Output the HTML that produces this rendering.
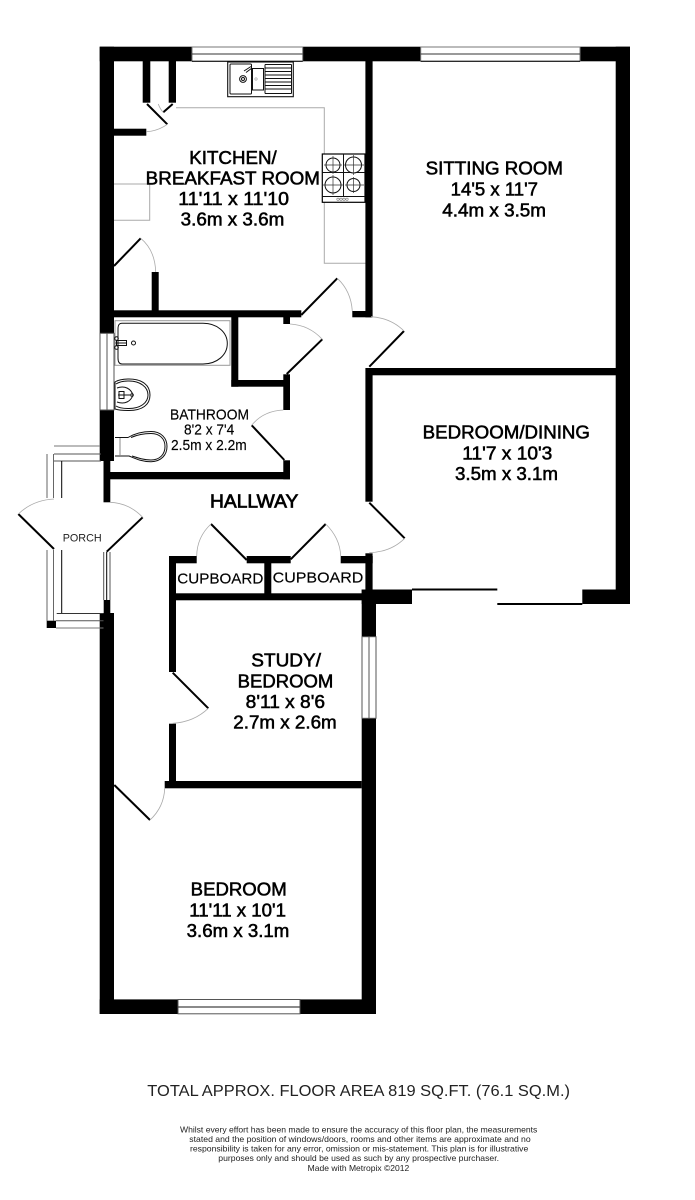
<!DOCTYPE html>
<html><head><meta charset="utf-8"><title>Floor plan</title>
<style>
html,body{margin:0;padding:0;background:#fff}
svg{display:block}
text{font-family:"Liberation Sans",Arial,sans-serif;fill:#000;text-anchor:start}
.r{font-size:18px;stroke:#000;stroke-width:.55}
.b{font-size:14.5px;stroke:#000;stroke-width:.15}
.d{font-size:8.3px;fill:#222}
.w{fill:#000}
.arc{fill:none;stroke:#aaa;stroke-width:.8}
.door{fill:none;stroke:#000;stroke-width:2}
.g{fill:none;stroke:#aaa;stroke-width:1}
.f{fill:none;stroke:#111;stroke-width:1}
.fw{fill:#fff;stroke:#222;stroke-width:.9}
</style></head><body>
<svg width="695" height="1200" viewBox="0 0 695 1200" xmlns="http://www.w3.org/2000/svg">
<rect width="695" height="1200" fill="#fff"/>

<!-- counters / table -->
<path class="g" d="M176 107.7H324.3V154M324.3 202V263.3H365.5M114 184H149.7V220.3H114"/>

<!-- walls -->
<g class="w">
<rect x="99.7" y="46.7" width="92.3" height="14.6"/>
<rect x="302.7" y="46.7" width="118" height="14.6"/>
<rect x="580" y="46.7" width="50" height="14.6"/>
<rect x="615.7" y="46.7" width="14.3" height="557.3"/>
<rect x="99.7" y="46.7" width="14.3" height="286.6"/>
<rect x="99.7" y="410" width="14.3" height="51"/>
<rect x="103.5" y="461" width="6.8" height="41.3"/>
<rect x="103.7" y="600" width="6.6" height="14"/>
<rect x="99.7" y="613" width="14.3" height="401"/>
<rect x="99.7" y="999.4" width="78.3" height="14.6"/>
<rect x="300" y="999.4" width="76" height="14.6"/>
<rect x="361.7" y="589.5" width="14.3" height="47.2"/>
<rect x="361.7" y="718.3" width="14.3" height="295.7"/>
<rect x="365.4" y="61" width="7.2" height="256.3"/>
<!-- kitchen cupboard -->
<rect x="142.7" y="61" width="7.6" height="41.7"/>
<rect x="168.7" y="61" width="7.3" height="41.7"/>
<rect x="114" y="128.7" width="32.3" height="7"/>
<rect x="151.7" y="272" width="7" height="40"/>
<rect x="114" y="310.3" width="187.3" height="7"/>
<rect x="352.3" y="311" width="20" height="6.3"/>
<!-- bathroom -->
<rect x="231.3" y="317" width="7" height="69.7"/>
<rect x="231.3" y="380" width="58.7" height="6.7"/>
<rect x="283.3" y="317" width="6.7" height="7"/>
<rect x="283.3" y="374.3" width="6.7" height="35.7"/>
<rect x="283.3" y="460.3" width="6.7" height="19"/>
<rect x="103.5" y="472" width="186.5" height="7.3"/>
<!-- hallway right -->
<rect x="365.4" y="368" width="7.2" height="133.7"/>
<rect x="372" y="368" width="244" height="7.3"/>
<rect x="365.4" y="553.3" width="7.2" height="40"/>
<!-- cupboards -->
<rect x="169" y="556" width="7" height="116"/>
<rect x="169" y="556" width="27.7" height="7.3"/>
<rect x="246.7" y="556" width="44" height="7.3"/>
<rect x="340.7" y="556" width="32" height="7.3"/>
<rect x="264.3" y="556" width="7" height="44"/>
<rect x="169" y="593.3" width="200" height="7"/>
<rect x="361.7" y="589.5" width="50.3" height="14.5"/>
<rect x="582.3" y="589.5" width="47.7" height="14.5"/>
<!-- study / bedroom -->
<rect x="169" y="723.7" width="7" height="64"/>
<rect x="164.7" y="781" width="197" height="7.3"/>
<!-- porch corner -->
<rect x="46.7" y="620.7" width="9.3" height="7.3"/>
</g>

<!-- sliding doors -->
<rect x="412" y="588.5" width="85.3" height="2" fill="#000"/>
<rect x="497.3" y="603" width="85" height="2" fill="#000"/>

<!-- windows -->
<g fill="#fff" stroke-width="1">
<g><rect x="192" y="47" width="110.7" height="14.3" stroke="#777"/><path d="M192 54H302.7" stroke="#333"/><path d="M192 61.3H302.7" stroke="#000"/></g>
<g><rect x="420.7" y="47" width="159.3" height="14.3" stroke="#777"/><path d="M420.7 54H580" stroke="#333"/><path d="M420.7 61.3H580" stroke="#000"/></g>
<g><rect x="178" y="999.5" width="122" height="14.3" stroke="#555"/><path d="M178 1007H300" stroke="#444" stroke-width="1.3"/></g>
<g><rect x="100" y="333.3" width="14" height="76.7" stroke="#555"/><path d="M107 333.3V410" stroke="#555"/></g>
<g><rect x="362" y="636.7" width="14" height="81.6" stroke="#555"/><path d="M369 636.7V718.3" stroke="#555"/></g>
</g>

<!-- porch structure -->
<g fill="none" stroke-width="1">
<path d="M54 446H100" stroke="#777"/>
<path d="M54 454H101M54 461H101" stroke="#555"/>
<path d="M47 454V498M53.5 454V498" stroke="#666"/>
<path d="M61.7 461V498" stroke="#000"/>
<path d="M47 550V621M53.5 550V621" stroke="#666"/>
<path d="M61.7 550V613" stroke="#000"/>
<path d="M56.7 613.5H103.5" stroke="#333"/>
<path d="M56 620.7H103.5" stroke="#555"/>
<path d="M56 628H103.5" stroke="#777"/>
<path d="M103.7 552V600M110 552V600" stroke="#555"/>
<path d="M106.7 552V600" stroke="#000"/>
</g>

<!-- door leaves -->
<g class="door">
<path d="M147 104L167.3 124.3"/>
<path d="M163.3 112.3L172.7 104"/>
<path d="M114 266L140.7 238.3"/>
<path d="M301.3 315L337.3 278.3"/>
<path d="M369.3 366.7L404 331"/>
<path d="M286.7 374L322.3 339.3"/>
<path d="M284.3 460L251.7 425.3"/>
<path d="M369.3 502.7L404.7 538.3"/>
<path d="M211 524L246.7 560"/>
<path d="M290.7 559.3L325.7 524"/>
<path d="M172.7 672.7L208.3 708.3"/>
<path d="M114.3 785L150 820"/>
<path d="M54 549L18.3 514"/>
<path d="M106.7 551.7L142.7 517.3"/>
</g>
<!-- door arcs -->
<g class="arc">
<path d="M167.3 124.3Q158 131 146.7 131.7"/>
<path d="M158.3 104Q160 109 163.3 112.3"/>
<path d="M140.7 238.3Q155 250 155.7 272"/>
<path d="M337.3 278.3Q351 291 352.3 311"/>
<path d="M404 331Q391 318 371 316.7"/>
<path d="M322.3 339.3Q309 325 290 324"/>
<path d="M251.7 425.3Q263 411 283.3 410"/>
<path d="M404.7 538.3Q391 552 369.3 552.7"/>
<path d="M196.7 556Q197 537 211 524"/>
<path d="M325.7 524Q340 538 340.7 556"/>
<path d="M208.3 708.3Q194 722 172.7 723.3"/>
<path d="M150 820Q164 807 164.7 788.3"/>
<path d="M18.3 514Q33 500 54 499"/>
<path d="M142.7 517.3Q129 503 110 502.3"/>
</g>

<!-- kitchen sink -->
<g>
<rect x="227.7" y="62" width="65.6" height="34.7" fill="none" stroke="#111" stroke-width="1.1"/>
<rect x="230" y="64" width="21.5" height="30" rx="1" class="f"/>
<rect x="252.5" y="68.5" width="11" height="21.5" class="f"/>
<circle cx="243" cy="79" r="3.4" class="f"/><circle cx="243" cy="79" r="1.5" class="f"/>
<circle cx="256" cy="79" r="1.2" fill="none" stroke="#999" stroke-width=".6"/>
<path class="f" d="M244 71L251 66.5M246 72.5L252 68"/>
<path class="f" d="M265 64.5H291.5M265 68H291.5M265 71.5H291.5M265 75H291.5M265 78.5H291.5M265 82H291.5M265 85.5H291.5M265 89H291.5M265 93.5H291.5M265 64.5V93.5M291.5 64.5V93.5"/>
</g>

<!-- hob -->
<g>
<rect x="322.3" y="154" width="42.7" height="48.3" fill="#fff" stroke="#000" stroke-width="1.2"/>
<path class="f" d="M322.3 172.5H365M343.5 154V196.5M322.3 196.5H365"/>
<circle cx="333" cy="165" r="7" fill="#fff" stroke="#111"/>
<circle cx="353.5" cy="165" r="8" fill="#fff" stroke="#111"/>
<circle cx="333" cy="185" r="8" fill="#fff" stroke="#111"/>
<circle cx="353.5" cy="185" r="6.5" fill="#fff" stroke="#111"/>
<path d="M333 156V174M324 165H342M353.5 155V175M343.5 165H364M333 175V195M323 185H343M353.5 177V193M345 185H364" stroke="#333" stroke-width=".7"/>
<g fill="none" stroke="#777" stroke-width=".6"><circle cx="338" cy="199.3" r="1.2"/><circle cx="341" cy="199.3" r="1.2"/><circle cx="344" cy="199.3" r="1.2"/><circle cx="347" cy="199.3" r="1.2"/></g>
</g>

<!-- bath -->
<g>
<rect x="115" y="320.7" width="115" height="44.6" fill="none" stroke="#999" stroke-width="1"/>
<path class="f" d="M122 323.3H203C217 323.3 227.3 332 227.3 343.5C227.3 355 217 364 203 364H122C118.5 364 118 361 118 358V329C118 326 118.5 323.3 122 323.3Z"/>
<path class="f" d="M115.5 343H126.5M116.5 340.5H126.5V345.5H116.5Z"/>
<circle cx="116.5" cy="338.5" r="1.8" class="f"/><circle cx="116.5" cy="347.5" r="1.8" class="f"/>
<circle cx="133.5" cy="343" r="2" class="f"/>
</g>

<!-- basin -->
<g>
<path class="f" d="M115 382C118 380 122 379 129 379C142 379 150 385 150 395C150 405 142 410.5 129 410.5C122 410.5 118 410 115 409Z"/>
<path class="f" d="M116 384C119 382 123 381 129 381C140 381 148 387 148 395C148 403 140 408.5 129 408.5C123 408.5 119 408 116 406"/>
<path class="f" d="M117 388C125 385 131 389 133 395C131 401 125 405 117 402"/>
<path class="f" d="M118 395H130M119 391.5H124V398.5H119Z"/>
<circle cx="132" cy="395" r="1.3" class="f"/>
</g>

<!-- toilet -->
<g>
<path class="f" d="M115 437.5H128C134 434 141 431.5 151 431.5C161 431.5 167 438 167 446.5C167 455 161 461.7 151 461.7C141 461.7 134 458 129 456H115"/>
<path class="f" d="M131 437.5C138 434.5 144 433.5 151 433.5C160 433.5 165 439 165 446.5C165 454 160 460 151 460C144 460 138 458 132 456"/>
<path d="M120 438V456" stroke="#888" stroke-width="1"/>
</g>

<!-- labels -->
<text class="r" x="189.3" y="164" textLength="87.4" lengthAdjust="spacingAndGlyphs">KITCHEN/</text>
<text class="r" x="145.7" y="184.3" textLength="174.3" lengthAdjust="spacingAndGlyphs">BREAKFAST ROOM</text>
<text class="r" x="178.3" y="205" textLength="110.7" lengthAdjust="spacingAndGlyphs">11'11 x 11'10</text>
<text class="r" x="180.7" y="225.7" textLength="103.6" lengthAdjust="spacingAndGlyphs">3.6m x 3.6m</text>

<text class="r" x="425.7" y="174.7" textLength="137.3" lengthAdjust="spacingAndGlyphs">SITTING ROOM</text>
<text class="r" x="450.7" y="195.7" textLength="87.3" lengthAdjust="spacingAndGlyphs">14'5 x 11'7</text>
<text class="r" x="442.3" y="216.7" textLength="103.7" lengthAdjust="spacingAndGlyphs">4.4m x 3.5m</text>

<text class="r" x="422.7" y="438.3" textLength="167.3" lengthAdjust="spacingAndGlyphs">BEDROOM/DINING</text>
<text class="r" x="462.3" y="459.3" textLength="90" lengthAdjust="spacingAndGlyphs">11'7 x 10'3</text>
<text class="r" x="455" y="480" textLength="103" lengthAdjust="spacingAndGlyphs">3.5m x 3.1m</text>

<text class="b" x="170" y="419.3" textLength="79" lengthAdjust="spacingAndGlyphs">BATHROOM</text>
<text class="b" x="184" y="434.3" textLength="50.3" lengthAdjust="spacingAndGlyphs">8'2 x 7'4</text>
<text class="b" x="171" y="450" textLength="75.7" lengthAdjust="spacingAndGlyphs">2.5m x 2.2m</text>

<text class="r" x="210" y="507.7" textLength="88.3" lengthAdjust="spacingAndGlyphs" style="stroke-width:.7">HALLWAY</text>
<text class="b" x="177.3" y="583.3" textLength="86" lengthAdjust="spacingAndGlyphs">CUPBOARD</text>
<text class="b" x="272.7" y="582.7" textLength="90.6" lengthAdjust="spacingAndGlyphs" style="font-size:15px">CUPBOARD</text>
<text x="62.7" y="541.7" textLength="39" lengthAdjust="spacingAndGlyphs" style="font-size:11px;fill:#222">PORCH</text>

<text class="r" x="251.3" y="666.7" textLength="69.7" lengthAdjust="spacingAndGlyphs">STUDY/</text>
<text class="r" x="237.7" y="687.3" textLength="95.6" lengthAdjust="spacingAndGlyphs">BEDROOM</text>
<text class="r" x="245.7" y="708" textLength="79.3" lengthAdjust="spacingAndGlyphs">8'11 x 8'6</text>
<text class="r" x="233.3" y="728.7" textLength="103.4" lengthAdjust="spacingAndGlyphs">2.7m x 2.6m</text>

<text class="r" x="190.7" y="895.3" textLength="96" lengthAdjust="spacingAndGlyphs">BEDROOM</text>
<text class="r" x="189.3" y="916.7" textLength="96.7" lengthAdjust="spacingAndGlyphs">11'11 x 10'1</text>
<text class="r" x="186.7" y="937" textLength="102.6" lengthAdjust="spacingAndGlyphs">3.6m x 3.1m</text>

<text x="147.3" y="1096" textLength="422.7" lengthAdjust="spacingAndGlyphs" style="font-size:15.5px;fill:#222">TOTAL APPROX. FLOOR AREA 819 SQ.FT. (76.1 SQ.M.)</text>

<text class="d" x="180" y="1132.7" textLength="357.3" lengthAdjust="spacingAndGlyphs">Whilst every effort has been made to ensure the accuracy of this floor plan, the measurements</text>
<text class="d" x="189.3" y="1142" textLength="341.4" lengthAdjust="spacingAndGlyphs">stated and the position of windows/doors, rooms and other items are approximate and no</text>
<text class="d" x="190" y="1151.7" textLength="338.3" lengthAdjust="spacingAndGlyphs">responsibility is taken for any error, omission or mis-statement. This plan is for illustrative</text>
<text class="d" x="218.3" y="1161" textLength="280.7" lengthAdjust="spacingAndGlyphs">purposes only and should be used as such by any prospective purchaser.</text>
<text class="d" x="307.7" y="1171" textLength="101.6" lengthAdjust="spacingAndGlyphs">Made with Metropix ©2012</text>
</svg>
</body></html>
